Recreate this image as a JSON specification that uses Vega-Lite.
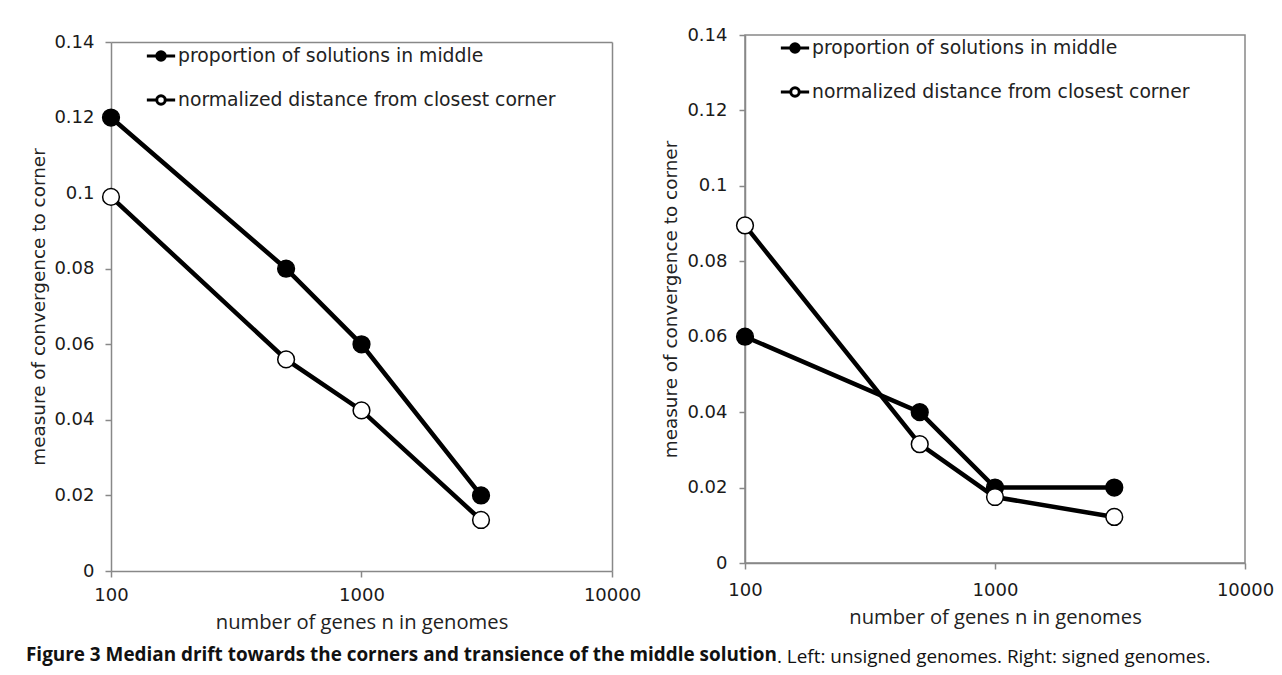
{
  "$schema": "https://vega.github.io/schema/vega-lite/v6.json",
  "background": "white",
  "padding": {"left": 26, "top": 25, "right": 5, "bottom": 5},
  "spacing": 20,
  "title": {"text": "Figure 3 Median drift towards the corners and transience of the middle solution", "font": "Open Sans", "fontSize": 18.9, "fontWeight": "bold", "color": "#111", "orient": "bottom", "anchor": "start", "frame": "group", "dx": -85, "offset": -22},
  "datasets": {
    "left": [
      {"n": 100, "value": 0.12, "series": "proportion of solutions in middle"},
      {"n": 500, "value": 0.08, "series": "proportion of solutions in middle"},
      {"n": 1000, "value": 0.06, "series": "proportion of solutions in middle"},
      {"n": 3000, "value": 0.02, "series": "proportion of solutions in middle"},
      {"n": 100, "value": 0.099, "series": "normalized distance from closest corner"},
      {"n": 500, "value": 0.056, "series": "normalized distance from closest corner"},
      {"n": 1000, "value": 0.0425, "series": "normalized distance from closest corner"},
      {"n": 3000, "value": 0.0135, "series": "normalized distance from closest corner"}
    ],
    "right": [
      {"n": 100, "value": 0.06, "series": "proportion of solutions in middle"},
      {"n": 500, "value": 0.04, "series": "proportion of solutions in middle"},
      {"n": 1000, "value": 0.02, "series": "proportion of solutions in middle"},
      {"n": 3000, "value": 0.02, "series": "proportion of solutions in middle"},
      {"n": 100, "value": 0.0895, "series": "normalized distance from closest corner"},
      {"n": 500, "value": 0.0315, "series": "normalized distance from closest corner"},
      {"n": 1000, "value": 0.0175, "series": "normalized distance from closest corner"},
      {"n": 3000, "value": 0.0122, "series": "normalized distance from closest corner"}
    ]
  },
  "config": {
    "view": {"stroke": "#888", "strokeWidth": 1.5},
    "axis": {
      "domainColor": "#888", "domainWidth": 1.5, "tickColor": "#888", "tickWidth": 1.5, "tickSize": 6, "grid": false,
      "labelFont": "DejaVu Sans", "labelFontSize": 18, "labelColor": "#1a1a1a", "labelFlush": false,
      "titleFont": "DejaVu Sans", "titleFontSize": 18.4, "titleColor": "#222", "titleFontWeight": "normal"
    },
    "legend": {
      "orient": "none", "legendX": 34, "title": null,
      "symbolType": "M-1,0H-0.3A0.3,0.3 0 1,1 0.3,0A0.3,0.3 0 1,1 -0.3,0M0.3,0H1",
      "symbolSize": 800, "symbolStrokeColor": "black", "symbolStrokeWidth": 3,
      "labelFont": "DejaVu Sans", "labelFontSize": 18.8, "labelColor": "#222", "labelLimit": 600,
      "rowPadding": 17, "labelOffset": 1
    }
  },
  "resolve": {"scale": {"fill": "independent"}, "legend": {"fill": "independent"}},
  "hconcat": [
    {
      "width": 501, "height": 536,
      "view": {"stroke": null},
      "data": {"name": "left"},
      "encoding": {
        "x": {"field": "n", "type": "quantitative", "scale": {"type": "log", "domain": [100, 10000]},
              "axis": {"values": [100, 1000, 10000], "format": "d", "labelPadding": 9, "title": "number of genes n in genomes", "titleFont": "Open Sans", "titleFontSize": 20.2, "titlePadding": 8}},
        "y": {"field": "value", "type": "quantitative", "scale": {"domain": [0, 0.14], "range": [536, 7]},
              "axis": {"values": [0, 0.02, 0.04, 0.06, 0.08, 0.1, 0.12, 0.14], "format": "~g", "labelPadding": 11, "title": "measure of convergence to corner", "titlePadding": 5}}
      },
      "layer": [
        {"mark": {"type": "line", "color": "black", "strokeWidth": 4.5}, "encoding": {"detail": {"field": "series"}}},
        {"mark": {"type": "point", "shape": "circle", "filled": true, "size": 280, "stroke": "black", "strokeWidth": 1.5, "opacity": 1},
         "encoding": {
           "x": {"field": "n", "type": "quantitative", "scale": {"type": "log", "domain": [100, 10000]},
                 "axis": {"orient": "top", "offset": -7, "domain": true, "ticks": false, "labels": false, "title": null, "values": [100, 1000, 10000]}},
           "y": {"field": "value", "type": "quantitative", "scale": {"domain": [0, 0.14], "range": [536, 7]},
                 "axis": {"orient": "right", "domain": true, "ticks": false, "labels": false, "title": null, "values": [0, 0.14]}},
           "fill": {"field": "series", "type": "nominal",
             "scale": {"domain": ["proportion of solutions in middle", "normalized distance from closest corner"], "range": ["black", "white"]},
             "legend": {"legendY": 5}}}}
      ],
      "resolve": {"axis": {"x": "independent", "y": "independent"}}
    },
    {
      "width": 500, "height": 528,
      "data": {"name": "right"},
      "title": {"text": ". Left: unsigned genomes. Right: signed genomes.", "font": "Open Sans", "fontSize": 18.9, "fontWeight": "normal", "color": "#111", "orient": "bottom", "anchor": "start", "frame": "group", "dx": 32, "offset": 21},
      "encoding": {
        "x": {"field": "n", "type": "quantitative", "scale": {"type": "log", "domain": [100, 10000]},
              "axis": {"values": [100, 1000, 10000], "format": "d", "labelPadding": 12, "title": "number of genes n in genomes", "titleFont": "Open Sans", "titleFontSize": 20.2, "titlePadding": 8}},
        "y": {"field": "value", "type": "quantitative", "scale": {"domain": [0, 0.14]},
              "axis": {"values": [0, 0.02, 0.04, 0.06, 0.08, 0.1, 0.12, 0.14], "format": "~g", "labelPadding": 12, "title": "measure of convergence to corner", "titlePadding": 6}}
      },
      "layer": [
        {"mark": {"type": "line", "color": "black", "strokeWidth": 4.5}, "encoding": {"detail": {"field": "series"}}},
        {"mark": {"type": "point", "shape": "circle", "filled": true, "size": 280, "stroke": "black", "strokeWidth": 1.5, "opacity": 1},
         "encoding": {"fill": {"field": "series", "type": "nominal",
           "scale": {"domain": ["proportion of solutions in middle", "normalized distance from closest corner"], "range": ["black", "white"]},
           "legend": {"legendY": -3}}}}
      ]
    }
  ]
}
